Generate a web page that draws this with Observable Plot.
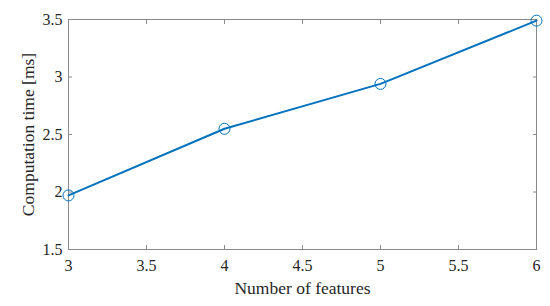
<!DOCTYPE html>
<html>
<head>
<meta charset="utf-8">
<script src="https://cdn.jsdelivr.net/npm/d3@7"></script>
<script src="https://cdn.jsdelivr.net/npm/@observablehq/plot@0.6"></script>
<style>
  html, body { margin: 0; padding: 0; background: #fff; }
  #chart svg { display: block; }
  #chart svg text { font-family: 'Liberation Serif', 'Times New Roman', serif; }
</style>
</head>
<body>
<div id="chart"></div>
<script>
const features = [3, 4, 5, 6];
const timesMs = [1.97, 2.55, 2.94, 3.49];
const xTicks = [3, 3.5, 4, 4.5, 5, 5.5, 6];
const yTicks = [1.5, 2, 2.5, 3, 3.5];

const data = features.map((f, i) => ({f, t: timesMs[i]}));
const fmt = d => String(d);
const axisColor = "#262626";
const frameColor = "#8a8a8a";
const blue = "#0072BD";
const serif = "'Liberation Serif', 'Times New Roman', serif";

const chart = Plot.plot({
  width: 550,
  height: 306,
  marginLeft: 68,
  marginRight: 14,
  marginTop: 19,
  marginBottom: 57,
  style: {fontFamily: serif, fontSize: "16px", color: axisColor, background: "#fff"},
  x: {domain: [3, 6]},
  y: {domain: [1.5, 3.5]},
  marks: [
    Plot.frame({stroke: frameColor}),
    Plot.axisX(xTicks, {anchor: "bottom", tickSize: -4, tickPadding: 14, tickFormat: fmt, stroke: frameColor, fill: axisColor, fontSize: 16, fontFamily: serif,
      label: null}),
    Plot.axisX(xTicks, {anchor: "top", tickSize: -4, tickFormat: () => "", stroke: frameColor, label: null}),
    Plot.axisY(yTicks, {anchor: "left", tickSize: -4, tickPadding: 10, tickFormat: fmt, stroke: frameColor, fill: axisColor, fontSize: 16, fontFamily: serif,
      label: null}),
    Plot.axisY(yTicks, {anchor: "right", tickSize: -4, tickFormat: () => "", stroke: frameColor, label: null}),
    Plot.text(["Number of features"], {frameAnchor: "bottom", dy: 44, lineAnchor: "bottom", textAnchor: "middle", fill: axisColor, fontSize: 17.5, fontFamily: serif}),
    Plot.text(["Computation time [ms]"], {frameAnchor: "left", dx: -35, rotate: -90, lineAnchor: "bottom", textAnchor: "middle", fill: axisColor, fontSize: 17.5, fontFamily: serif}),
    Plot.line(data, {x: "f", y: "t", stroke: blue, strokeWidth: 2}),
    Plot.dot(data, {x: "f", y: "t", r: 5.5, stroke: blue, strokeWidth: 1, fill: "none"})
  ]
});
document.getElementById("chart").appendChild(chart);
</script>
</body>
</html>
